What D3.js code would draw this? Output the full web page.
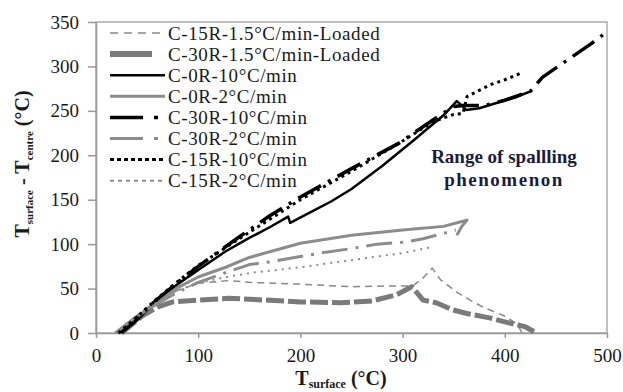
<!DOCTYPE html>
<html>
<head>
    <title>Temperature difference</title>
    <script src="https://cdnjs.cloudflare.com/ajax/libs/d3/7.8.5/d3.min.js"></script>
    <style>
    body { margin:0; background:#fff; }
    svg, svg text { font-family:'Liberation Serif', 'Times New Roman', Times, serif; fill:#1a1a1a; }
    .axis path, .axis line { stroke:#999; stroke-width:1.5px; }
    .axis text { font-size:19px; }
    </style>
</head>
<body>
<div id="chart"></div>
<script>

    // series data: [T surface, T surface - T centre]
    var c15rLoaded = [[20,0],[40,20],[60,37],[80,48],[100,56],[130,59],[150,57],[200,55],[250,52],[290,53],[310,53],[320,62],[329,73],[337,60],[353,46],[366,37],[379,29],[402,18],[412,10],[417,0]];
    var c30rLoaded = [[25,0],[45,19],[60,29],[75,35],[100,37],[130,39],[150,38],[200,35],[239,34],[270,36],[294,43],[309,52],[315,44],[320,37],[333,34],[349,26],[363,22],[385,17],[402,12],[420,7],[428,2],[432,0]];
    var c0r10 = [[25,0],[40,14],[62,40],[80,55],[100,71],[127,92],[150,107],[170,119],[188,131],[190,124],[210,136],[230,148],[250,162],[280,188],[310,216],[340,245],[353,261],[358,256],[362,251],[375,253],[395,260],[410,265],[425,272]];
    var c0r2 = [[19,0],[40,18],[60,35],[80,51],[100,63],[127,74],[150,85],[200,101],[250,110],[300,116],[340,120],[360,126],[363,127],[358,120],[353,110]];
    var c30r10 = [[22,0],[40,17],[60,38],[80,57],[100,75],[140,108],[170,132],[200,153],[250,185],[297,214],[330,240],[350,255],[360,256],[380,256],[400,262],[425,272],[437,288],[461,307],[485,326],[500,339]];
    var c30r2 = [[19,0],[40,19],[60,33],[80,46],[100,57],[127,68],[150,77],[170,80],[200,86],[225,91],[250,95],[275,100],[300,102],[320,106],[343,113],[352,116]];
    var c15r10 = [[22,0],[40,18],[60,39],[80,58],[100,76],[140,106],[170,128],[200,150],[250,182],[300,216],[330,238],[350,246],[359,247],[363,266],[385,279],[400,285],[417,293]];
    var c15r2 = [[19,0],[40,19],[60,35],[80,48],[100,56],[127,63],[154,68],[200,74],[250,82],[300,90],[330,97]];

    var seriesNames = ['C-15R-1.5°C/min-Loaded', 'C-30R-1.5°C/min-Loaded', 'C-0R-10°C/min', 'C-0R-2°C/min',
                       'C-30R-10°C/min', 'C-30R-2°C/min', 'C-15R-10°C/min', 'C-15R-2°C/min'];
    var seriesData = [c15rLoaded, c30rLoaded, c0r10, c0r2, c30r10, c30r2, c15r10, c15r2];

    var xTicks = [0, 100, 200, 300, 400, 500];
    var yTicks = [0, 50, 100, 150, 200, 250, 300, 350];

    var serif = "'Liberation Serif', 'Times New Roman', serif";

    // line styles, one per series
    var styles = [
        {color:'#888', width:1.5, dash:'7,5', legendDash:'8,6'},
        {color:'#7a7a7a', width:5, dash:'18,4', legendDash:'42,20'},
        {color:'#000', width:2.5, dash:null, legendDash:null},
        {color:'#8c8c8c', width:3, dash:null, legendDash:null},
        {color:'#000', width:3.5, dash:'26,8,3,8', legendDash:'33,11,4,20'},
        {color:'#8c8c8c', width:3, dash:'26,8,3,8', legendDash:'33,11,4,20'},
        {color:'#000', width:3, dash:'3,4', legendDash:'4,3'},
        {color:'#8c8c8c', width:2, dash:'2,5', legendDash:'4,4'}
    ];

    var width = 623;
    var height = 392;
    var margin = {top:22, right:16, bottom:59, left:96};

    var svg = d3.select('#chart').append('svg')
        .attr('width', width)
        .attr('height', height)
        .attr('font-family', serif);

    var x = d3.scaleLinear().domain([0, 500]).range([margin.left, width - margin.right]);
    var y = d3.scaleLinear().domain([0, 350]).range([height - margin.bottom, margin.top]);

    // frame
    svg.append('rect')
        .attr('x', x(0)).attr('y', y(350))
        .attr('width', x(500) - x(0)).attr('height', y(0) - y(350))
        .attr('fill', 'none').attr('stroke', '#aaa').attr('stroke-width', 1.5);

    svg.append('g')
        .attr('class', 'axis')
        .attr('transform', 'translate(0,' + y(0) + ')')
        .call(d3.axisBottom(x).tickValues(xTicks).tickSize(5).tickPadding(11).tickSizeOuter(0))
        .attr('font-family', serif).attr('font-size', 19);

    svg.append('g')
        .attr('class', 'axis')
        .attr('transform', 'translate(' + x(0) + ',0)')
        .call(d3.axisLeft(y).tickValues(yTicks).tickSize(8).tickPadding(9).tickSizeOuter(0))
        .attr('font-family', serif).attr('font-size', 19);

    var line = d3.line()
        .x(function(d) { return x(d[0]); })
        .y(function(d) { return y(d[1]); });

    seriesData.forEach(function(data, i) {
        var s = styles[i];
        svg.append('path')
            .datum(data)
            .attr('d', line)
            .attr('fill', 'none')
            .attr('stroke', s.color)
            .attr('stroke-width', s.width)
            .attr('stroke-dasharray', s.dash)
            .attr('stroke-linejoin', 'round');
    });

    // legend
    var legend = svg.append('g');
    seriesNames.forEach(function(name, i) {
        var s = styles[i];
        var ly = 33 + i * 21.1;
        legend.append('line')
            .attr('x1', 110).attr('x2', 165)
            .attr('y1', ly).attr('y2', ly)
            .attr('stroke', s.color)
            .attr('stroke-width', i === 1 ? 6 : s.width)
            .attr('stroke-dasharray', s.legendDash);
        legend.append('text')
            .attr('x', 168).attr('y', ly)
            .attr('dy', '0.35em')
            .style('font-family', serif)
            .style('font-size', '19px')
            .style('letter-spacing', '0.6px')
            .text(name);
    });

    // annotation
    var note = svg.append('text')
        .attr('text-anchor', 'middle')
        .style('font-family', serif)
        .style('font-size', '19px')
        .style('font-weight', 'bold')
        .style('fill', '#1c1c3c');
    note.append('tspan').attr('x', 504).attr('y', 163).text('Range of spallling');
    note.append('tspan').attr('x', 504).attr('y', 186).style('letter-spacing', '1.5px').text('phenomenon');

    // axis titles
    var xt = svg.append('text')
        .attr('x', 341).attr('y', 385)
        .attr('text-anchor', 'middle')
        .style('font-family', serif)
        .style('font-weight', 'bold')
        .style('font-size', '20px');
    xt.append('tspan').text('T');
    xt.append('tspan').attr('dy', 3).style('font-size', '12px').text('surface');
    xt.append('tspan').attr('dy', -3).text(' (°C)');

    var yt = svg.append('text')
        .attr('transform', 'translate(29,164) rotate(-90)')
        .attr('text-anchor', 'middle')
        .style('font-family', serif)
        .style('font-weight', 'bold')
        .style('font-size', '20px');
    yt.append('tspan').text('T');
    yt.append('tspan').attr('dy', 4).style('font-size', '11px').text('surface');
    yt.append('tspan').attr('dy', -4).text(' - T');
    yt.append('tspan').attr('dy', 4).style('font-size', '11px').text('centre');
    yt.append('tspan').attr('dy', -4).text(' (°C)');

</script>
</body>
</html>
